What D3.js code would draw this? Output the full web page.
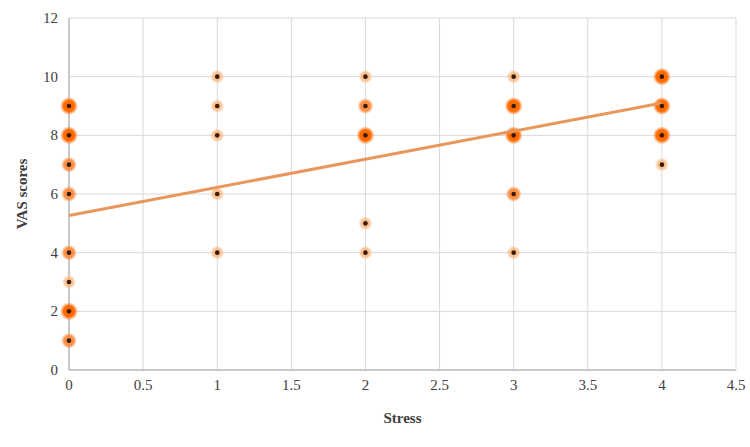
<!DOCTYPE html>
<html><head><meta charset="utf-8">
<script src="https://cdn.jsdelivr.net/npm/d3@7"></script>
<style>body{margin:0;background:#fff}text{font-family:"Liberation Serif",serif}</style>
</head><body><div id="container"></div>
<script>
const w = 750, h = 447;
const padLeft = 69, padRight = 736, padTop = 18, padBot = 370;

// stress, VAS score, weight (how many responses overlap -> glow strength)
const stress = [0,0,0,0,0,0,0,0, 1,1,1,1,1, 2,2,2,2,2, 3,3,3,3,3, 4,4,4,4];
const vas    = [9,8,7,6,4,3,2,1, 10,9,8,6,4, 10,9,8,5,4, 10,9,8,6,4, 10,9,8,7];
const weight = [3,3,2,2,2,1,3,2, 1,1,1,1,1, 1,2,3,1,1, 1,3,3,2,1, 3,3,3,1];
const xTicks = [0,0.5,1,1.5,2,2.5,3,3.5,4,4.5];
const yTicks = [0,2,4,6,8,10,12];
const trendX = [0, 4];
const trendY = [5.27, 9.1];

const svg = d3.select('#container').append('svg').attr('width', w).attr('height', h);
const x = d3.scaleLinear().domain([0, 4.5]).range([padLeft, padRight]);
const y = d3.scaleLinear().domain([0, 12]).range([padBot, padTop]);

const defs = svg.append('defs');
const glows = [
  {id: 'g1', c: '#fbb982', o: 0.85},
  {id: 'g2', c: '#fb8a3c', o: 0.95},
  {id: 'g3', c: '#ff6a00', o: 1}
];
glows.forEach(g => {
  const rg = defs.append('radialGradient').attr('id', g.id);
  rg.append('stop').attr('offset', '0%').attr('stop-color', g.c).attr('stop-opacity', g.o);
  rg.append('stop').attr('offset', '60%').attr('stop-color', g.c).attr('stop-opacity', g.o);
  rg.append('stop').attr('offset', '100%').attr('stop-color', g.c).attr('stop-opacity', 0);
});

// grid
svg.append('g').selectAll('line').data(xTicks).enter().append('line')
  .attr('x1', d => x(d)).attr('x2', d => x(d)).attr('y1', padTop).attr('y2', padBot)
  .attr('stroke', '#d9d9d9');
svg.append('g').selectAll('line').data(yTicks).enter().append('line')
  .attr('x1', padLeft).attr('x2', padRight).attr('y1', d => y(d)).attr('y2', d => y(d))
  .attr('stroke', '#d9d9d9');
svg.append('line').attr('x1', padLeft).attr('x2', padLeft).attr('y1', padTop).attr('y2', padBot).attr('stroke', '#a6a6a6');
svg.append('line').attr('x1', padLeft).attr('x2', padRight).attr('y1', padBot).attr('y2', padBot).attr('stroke', '#a6a6a6');

// tick labels
svg.append('g').selectAll('text').data(xTicks).enter().append('text')
  .attr('x', d => x(d)).attr('y', padBot + 20).attr('text-anchor', 'middle')
  .attr('font-size', 15).attr('fill', '#404040').text(d => d);
svg.append('g').selectAll('text').data(yTicks).enter().append('text')
  .attr('x', padLeft - 11).attr('y', d => y(d) + 5).attr('text-anchor', 'end')
  .attr('font-size', 15).attr('fill', '#404040').text(d => d);

// titles
svg.append('text').attr('x', (padLeft + padRight) / 2).attr('y', 423).attr('text-anchor', 'middle')
  .attr('font-size', 15).attr('font-weight', 'bold').attr('fill', '#404040').text('Stress');
svg.append('text').attr('transform', `translate(27,${(padTop + padBot) / 2}) rotate(-90)`)
  .attr('text-anchor', 'middle').attr('font-size', 15).attr('font-weight', 'bold')
  .attr('fill', '#404040').text('VAS scores');

// points
const pts = stress.map((s, i) => ({s, v: vas[i], wt: weight[i]}));
const g = svg.append('g');
g.selectAll('circle.glow').data(pts).enter().append('circle').attr('class', 'glow')
  .attr('cx', d => x(d.s)).attr('cy', d => y(d.v)).attr('r', d => 6 + d.wt)
  .attr('fill', d => `url(#g${d.wt})`);

// trend line
svg.append('line').attr('x1', x(trendX[0])).attr('y1', y(trendY[0]))
  .attr('x2', x(trendX[1])).attr('y2', y(trendY[1]))
  .attr('stroke', '#e8975c').attr('stroke-width', 3);

svg.append('g').selectAll('circle').data(pts).enter().append('circle')
  .attr('cx', d => x(d.s)).attr('cy', d => y(d.v)).attr('r', 2.3).attr('fill', '#3a1a08');
</script></body></html>
